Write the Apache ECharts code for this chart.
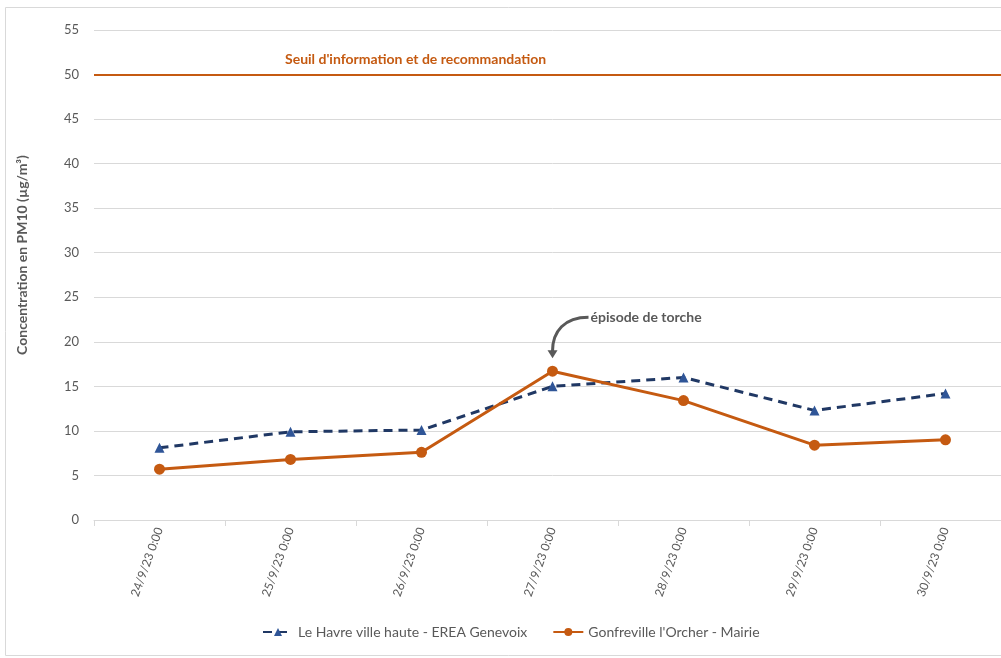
<!DOCTYPE html>
<html>
<head>
<meta charset="utf-8">
<script src="https://cdn.jsdelivr.net/npm/echarts@6/dist/echarts.min.js"></script>
<style>
  html, body { margin: 0; padding: 0; background: #fff; overflow: hidden; }
  /* the plot area runs slightly past the right edge of the window */
  #chart { width: 1011px; height: 658px; }
</style>
</head>
<body>
<div id="chart"></div>
<script>
// Daily PM10 concentrations, 24–30 September 2023
const categories = ['24/9/23 0:00', '25/9/23 0:00', '26/9/23 0:00', '27/9/23 0:00', '28/9/23 0:00', '29/9/23 0:00', '30/9/23 0:00'];
const leHavre = [8.1, 9.9, 10.1, 15.0, 16.0, 12.3, 14.2];
const gonfreville = [5.7, 6.8, 7.6, 16.7, 13.4, 8.4, 9.0];
const seuil = 50;
const yTicks = { min: 0, max: 55, interval: 5 };

const seriesNames = ['Le Havre ville haute - EREA Genevoix', "Gonfreville l'Orcher - Mairie"];
const seuilLabel = "Seuil d'information et de recommandation";
const episodeLabel = 'épisode de torche';
const yAxisTitle = 'Concentration en PM10 (µg/m³)';
const episodeIndex = 3;

const FONT = 'Lato, "Open Sans", sans-serif';
const GREY = '#595959';
const NAVY = '#203864';
const BLUE = '#2F5597';
const ORANGE = '#C55A11';

const chart = echarts.init(document.getElementById('chart'));

chart.setOption({
  animation: false,
  textStyle: { fontFamily: FONT },
  grid: { left: 94, right: 0, top: 30, bottom: 138, containLabel: false },
  legend: {
    bottom: 14,
    left: 257,
    itemGap: 25,
    itemWidth: 30,
    itemHeight: 10,
    textStyle: { color: GREY, fontSize: 14, fontFamily: FONT },
    data: [
      { name: seriesNames[0] },
      { name: seriesNames[1] }
    ]
  },
  xAxis: {
    type: 'category',
    data: categories,
    boundaryGap: true,
    axisLine: { lineStyle: { color: '#d9d9d9', width: 1 } },
    axisTick: { show: true, length: 6, lineStyle: { color: '#d9d9d9' } },
    axisLabel: { color: GREY, fontSize: 12, rotate: 70, margin: 8, fontFamily: FONT }
  },
  yAxis: {
    type: 'value',
    min: yTicks.min,
    max: yTicks.max,
    interval: yTicks.interval,
    axisLine: { show: false },
    axisTick: { show: false },
    axisLabel: { color: GREY, fontSize: 13, margin: 15, fontFamily: FONT },
    splitLine: { lineStyle: { color: '#d9d9d9', width: 1 } }
  },
  series: [
    {
      name: seriesNames[0],
      type: 'line',
      data: leHavre,
      symbol: 'triangle',
      symbolSize: 10,
      itemStyle: { color: BLUE },
      lineStyle: { color: NAVY, width: 3, type: [9, 6] },
      z: 3
    },
    {
      name: seriesNames[1],
      type: 'line',
      data: gonfreville,
      symbol: 'circle',
      symbolSize: 11,
      itemStyle: { color: ORANGE },
      lineStyle: { color: ORANGE, width: 3 },
      z: 4
    },
    {
      name: 'seuil',
      type: 'line',
      data: [],
      silent: true,
      markLine: {
        silent: true,
        symbol: ['none', 'none'],
        lineStyle: { color: ORANGE, width: 2, type: 'solid' },
        label: {
          show: true,
          position: 'insideStartTop',
          formatter: seuilLabel,
          color: ORANGE,
          fontWeight: 'bold',
          fontSize: 14,
          fontFamily: FONT,
          distance: [191, 8]
        },
        data: [{ yAxis: seuil }]
      }
    }
  ]
});

// Frame, y-axis title and the arrow pointing at the torch episode
function drawAnnotation() {
  const p = chart.convertToPixel({ xAxisIndex: 0, yAxisIndex: 0 }, [episodeIndex, gonfreville[episodeIndex]]);
  const tipX = p[0];
  const tipY = p[1] - 13;
  const startX = tipX + 36;
  const startY = tipY - 41;
  chart.setOption({
    graphic: [
      {
        type: 'rect',
        shape: { x: 5.5, y: 7.5, width: 1030, height: 648 },
        style: { fill: 'none', stroke: '#d9d9d9', lineWidth: 1 },
        silent: true,
        z: -1
      },
      {
        type: 'text',
        x: 22,
        y: 255,
        rotation: Math.PI / 2,
        style: {
          text: yAxisTitle,
          fill: GREY,
          font: 'bold 14px ' + FONT,
          align: 'center',
          verticalAlign: 'middle'
        },
        silent: true
      },
      {
        type: 'bezierCurve',
        shape: {
          x1: startX, y1: startY,
          cpx1: tipX + 12, cpy1: startY,
          cpx2: tipX, cpy2: startY + 14,
          x2: tipX, y2: tipY - 7
        },
        style: { stroke: GREY, lineWidth: 3, fill: 'none' },
        silent: true
      },
      {
        type: 'polygon',
        shape: { points: [[tipX - 5, tipY - 8], [tipX + 5, tipY - 8], [tipX, tipY]] },
        style: { fill: GREY },
        silent: true
      },
      {
        type: 'text',
        x: startX + 2,
        y: startY,
        style: {
          text: episodeLabel,
          fill: GREY,
          font: 'bold 14px ' + FONT,
          verticalAlign: 'middle'
        },
        silent: true
      }
    ]
  });
}
drawAnnotation();
</script>
</body>
</html>
